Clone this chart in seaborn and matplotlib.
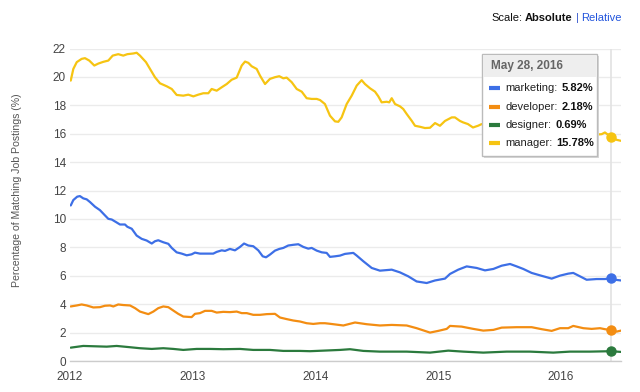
import numpy as np
import pandas as pd
import matplotlib
matplotlib.use("Agg")
import matplotlib.pyplot as plt
import seaborn as sns
from matplotlib.patches import Rectangle
from matplotlib.lines import Line2D

# ---------------- data (x as years since 2012-01-01) ----------------
series_names = ["marketing", "developer", "designer", "manager"]
series_colors = ["#3d6fe6", "#f38d12", "#2b7a3d", "#f6c412"]

manager_t = [0.006, 0.027, 0.055, 0.095, 0.122, 0.157, 0.198, 0.231, 0.271, 0.312, 0.348, 0.393,
             0.434, 0.467, 0.516, 0.543, 0.570, 0.619, 0.652, 0.692, 0.733, 0.788, 0.829, 0.869,
             0.923, 0.964, 1.005, 1.045, 1.086, 1.127, 1.154, 1.195, 1.236, 1.277, 1.317, 1.358,
             1.399, 1.426, 1.453, 1.480, 1.521, 1.548, 1.589, 1.629, 1.670, 1.705, 1.738, 1.765,
             1.806, 1.847, 1.888, 1.928, 1.969, 2.010, 2.037, 2.077, 2.118, 2.159, 2.186, 2.213,
             2.254, 2.295, 2.336, 2.376, 2.403, 2.444, 2.485, 2.512, 2.539, 2.580, 2.601, 2.621,
             2.648, 2.688, 2.715, 2.743, 2.784, 2.811, 2.851, 2.892, 2.933, 2.974, 3.014, 3.055,
             3.110, 3.136, 3.177, 3.202, 3.242, 3.283, 3.324, 3.354, 3.422, 3.503, 3.585, 3.666,
             3.747, 3.829, 3.910, 3.992, 4.073, 4.155, 4.236, 4.332, 4.358, 4.407, 4.454, 4.489]
manager_v = [19.74, 20.56, 21.04, 21.27, 21.32, 21.15, 20.80, 20.94, 21.06, 21.15, 21.50, 21.60,
             21.50, 21.60, 21.65, 21.70, 21.50, 21.04, 20.56, 19.98, 19.55, 19.34, 19.15, 18.73,
             18.68, 18.75, 18.63, 18.75, 18.85, 18.85, 19.15, 19.03, 19.27, 19.50, 19.80, 19.95,
             20.80, 21.08, 20.99, 20.75, 20.56, 20.09, 19.50, 19.86, 19.98, 20.05, 19.90, 19.95,
             19.63, 19.15, 18.96, 18.50, 18.45, 18.45, 18.37, 18.09, 17.27, 16.87, 16.84, 17.15,
             18.09, 18.68, 19.39, 19.77, 19.50, 19.20, 18.96, 18.63, 18.21, 18.25, 18.21, 18.50,
             18.09, 17.93, 17.74, 17.39, 16.91, 16.56, 16.49, 16.40, 16.42, 16.75, 16.56, 16.90,
             17.15, 17.15, 16.90, 16.80, 16.68, 16.44, 16.56, 16.68, 16.40, 16.20, 16.40, 16.10,
             16.30, 16.00, 16.20, 15.90, 16.10, 15.80, 15.90, 15.97, 16.09, 15.78, 15.57, 15.50]

marketing_t = [0.006, 0.027, 0.059, 0.081, 0.108, 0.136, 0.163, 0.204, 0.244, 0.285, 0.312, 0.340,
               0.375, 0.407, 0.448, 0.467, 0.503, 0.543, 0.584, 0.625, 0.666, 0.692, 0.719, 0.760,
               0.801, 0.829, 0.869, 0.910, 0.951, 0.991, 1.018, 1.059, 1.114, 1.167, 1.195, 1.236,
               1.263, 1.303, 1.344, 1.385, 1.418, 1.453, 1.493, 1.534, 1.570, 1.597, 1.629, 1.670,
               1.705, 1.738, 1.778, 1.819, 1.860, 1.901, 1.941, 1.969, 2.010, 2.051, 2.091, 2.118,
               2.159, 2.200, 2.240, 2.308, 2.336, 2.390, 2.458, 2.525, 2.621, 2.688, 2.756, 2.824,
               2.906, 2.974, 3.055, 3.096, 3.163, 3.232, 3.313, 3.381, 3.449, 3.517, 3.585, 3.639,
               3.693, 3.761, 3.829, 3.924, 3.992, 4.059, 4.100, 4.155, 4.209, 4.291, 4.358, 4.407,
               4.440, 4.489]
marketing_v = [10.95, 11.33, 11.57, 11.61, 11.45, 11.38, 11.19, 10.86, 10.62, 10.25, 10.01, 9.96,
               9.78, 9.61, 9.61, 9.45, 9.31, 8.83, 8.60, 8.48, 8.27, 8.43, 8.50, 8.36,
               8.25, 7.96, 7.65, 7.56, 7.44, 7.51, 7.63, 7.56, 7.56, 7.56, 7.68, 7.79,
               7.75, 7.89, 7.79, 8.03, 8.27, 8.13, 8.08, 7.79, 7.37, 7.30, 7.49, 7.77,
               7.89, 7.96, 8.13, 8.18, 8.22, 8.03, 7.91, 7.96, 7.77, 7.65, 7.61, 7.33,
               7.37, 7.42, 7.54, 7.61, 7.42, 7.02, 6.55, 6.36, 6.43, 6.24, 5.96, 5.60,
               5.49, 5.67, 5.80, 6.13, 6.43, 6.66, 6.55, 6.38, 6.48, 6.71, 6.83, 6.66,
               6.48, 6.20, 6.03, 5.80, 6.01, 6.15, 6.20, 5.96, 5.72, 5.77, 5.77, 5.82,
               5.72, 5.67]

developer_t = [0.006, 0.055, 0.095, 0.136, 0.190, 0.244, 0.285, 0.326, 0.353, 0.393, 0.434, 0.489,
               0.530, 0.570, 0.611, 0.638, 0.679, 0.719, 0.760, 0.801, 0.842, 0.882, 0.923, 0.991,
               1.018, 1.059, 1.100, 1.154, 1.195, 1.249, 1.303, 1.358, 1.399, 1.440, 1.493, 1.548,
               1.603, 1.670, 1.711, 1.765, 1.819, 1.874, 1.928, 1.982, 2.037, 2.077, 2.118, 2.227,
               2.322, 2.417, 2.525, 2.621, 2.743, 2.824, 2.933, 3.000, 3.069, 3.096, 3.191, 3.286,
               3.367, 3.449, 3.517, 3.639, 3.761, 3.843, 3.924, 3.992, 4.059, 4.100, 4.182, 4.250,
               4.318, 4.358, 4.407, 4.454, 4.489]
developer_v = [3.84, 3.91, 3.98, 3.91, 3.77, 3.79, 3.89, 3.91, 3.84, 3.98, 3.94, 3.91,
               3.72, 3.48, 3.37, 3.30, 3.48, 3.72, 3.84, 3.79, 3.55, 3.32, 3.13, 3.09,
               3.32, 3.37, 3.53, 3.53, 3.41, 3.46, 3.44, 3.48, 3.37, 3.37, 3.25, 3.25,
               3.30, 3.32, 3.06, 2.95, 2.85, 2.78, 2.66, 2.61, 2.66, 2.66, 2.62, 2.50,
               2.71, 2.59, 2.50, 2.54, 2.50, 2.31, 2.00, 2.12, 2.26, 2.47, 2.42, 2.26,
               2.14, 2.19, 2.35, 2.38, 2.38, 2.24, 2.12, 2.31, 2.31, 2.47, 2.31, 2.26,
               2.31, 2.24, 2.18, 2.07, 2.14]

designer_t = [0.006, 0.108, 0.299, 0.380, 0.489, 0.570, 0.666, 0.760, 0.842, 0.923, 1.032, 1.141,
              1.249, 1.385, 1.493, 1.629, 1.738, 1.874, 1.955, 2.064, 2.200, 2.281, 2.390, 2.525,
              2.743, 2.933, 3.082, 3.204, 3.367, 3.558, 3.747, 3.937, 4.073, 4.236, 4.407, 4.489]
designer_v = [0.94, 1.06, 1.01, 1.06, 0.97, 0.90, 0.85, 0.90, 0.85, 0.78, 0.85, 0.85,
              0.83, 0.85, 0.78, 0.78, 0.71, 0.71, 0.69, 0.73, 0.78, 0.83, 0.71, 0.66,
              0.66, 0.59, 0.73, 0.66, 0.59, 0.66, 0.66, 0.59, 0.66, 0.66, 0.69, 0.64]

x_tick_labels = ["2012", "2013", "2014", "2015", "2016"]
y_ticks = [0, 2, 4, 6, 8, 10, 12, 14, 16, 18, 20, 22]

hover_t = 4.407
hover_date = "May 28, 2016"
hover_values = [5.82, 2.18, 0.69, 15.78]

# ---------------- build frame ----------------
frames = []
for name, t, v in [("marketing", marketing_t, marketing_v),
                   ("developer", developer_t, developer_v),
                   ("designer", designer_t, designer_v),
                   ("manager", manager_t, manager_v)]:
    frames.append(pd.DataFrame({"t": np.array(t) + 2012, "value": v, "series": name}))
df = pd.concat(frames, ignore_index=True)

sns.set_theme(style="white")
plt.rcParams["font.family"] = ["Liberation Sans", "DejaVu Sans"]

fig = plt.figure(figsize=(6.4, 3.92), dpi=100)
ax = fig.add_axes([70 / 640, 1 - 361 / 392, 551 / 640, (361 - 48.5) / 392])

palette = dict(zip(series_names, series_colors))
sns.lineplot(data=df, x="t", y="value", hue="series", hue_order=series_names,
             palette=palette, estimator=None, sort=True, linewidth=1.6,
             legend=False, ax=ax, zorder=3)

ax.set_xlim(2012, 2016.489)
ax.set_ylim(0, 22)
ax.set_yticks(y_ticks)
ax.set_yticklabels([str(v) for v in y_ticks])
ax.set_xticks([2012 + i for i in range(len(x_tick_labels))])
ax.set_xticklabels(x_tick_labels)
ax.tick_params(axis="both", length=0, labelsize=8.5, labelcolor="#444444")
ax.tick_params(axis="y", pad=3)
ax.tick_params(axis="x", pad=7)
ax.set_xlabel("")
ax.set_ylabel("")
ax.grid(axis="y", color="#ebebeb", linewidth=1, zorder=0)
for s in ["top", "right", "left"]:
    ax.spines[s].set_visible(False)
ax.spines["bottom"].set_color("#cccccc")
ax.spines["bottom"].set_linewidth(1)

# hover line + points
ax.axvline(hover_t + 2012, color="#e2e2e2", linewidth=1.2, zorder=1)
for c, v in zip(series_colors, hover_values):
    ax.plot([hover_t + 2012], [v], marker="o", markersize=6.5, color=c, zorder=5)

fig.text(17 / 640, 1 - 190 / 392, "Percentage of Matching Job Postings (%)", rotation=90,
         ha="center", va="center", fontsize=7.6, color="#555555")

# Scale: Absolute | Relative
fig.canvas.draw()
r = fig.canvas.get_renderer()
yb = 1 - 18 / 392
x_right = 622 / 640
t_rel = fig.text(x_right, yb, "Relative", ha="right", va="center", fontsize=8, color="#2255dd")
w = t_rel.get_window_extent(r).width
x_cur = x_right * 640 - w
t_bar = fig.text((x_cur - 3) / 640, yb, "|", ha="right", va="center", fontsize=8, color="#3355cc")
w = t_bar.get_window_extent(r).width
x_cur = x_cur - 3 - w
t_abs = fig.text((x_cur - 3) / 640, yb, "Absolute", ha="right", va="center", fontsize=8,
                 fontweight="bold", color="#111111")
w = t_abs.get_window_extent(r).width
x_cur = x_cur - 3 - w
fig.text((x_cur - 3) / 640, yb, "Scale:", ha="right", va="center", fontsize=8, color="#111111")

# tooltip
tx0, tx1, ty0, ty1 = 482, 597, 54, 156
fig.patches.append(Rectangle(((tx0 + 2) / 640, 1 - (ty1 + 2) / 392), (tx1 - tx0) / 640,
                             (ty1 - ty0) / 392, transform=fig.transFigure,
                             facecolor="#d8d8d8", edgecolor="none", zorder=8))
fig.patches.append(Rectangle((tx0 / 640, 1 - ty1 / 392), (tx1 - tx0) / 640, (ty1 - ty0) / 392,
                             transform=fig.transFigure, facecolor="white",
                             edgecolor="#bbbbbb", linewidth=1, zorder=9))
fig.patches.append(Rectangle(((tx0 + 1) / 640, 1 - 77 / 392), (tx1 - tx0 - 2) / 640, (77 - ty0 - 1) / 392,
                             transform=fig.transFigure, facecolor="#eeeeee",
                             edgecolor="none", zorder=9.5))
fig.text(491 / 640, 1 - 66 / 392, hover_date, ha="left", va="center", fontsize=8.5,
         fontweight="bold", color="#666666", zorder=10)
row_y = [88, 107, 125, 143]
for name, c, v, yy in zip(series_names, series_colors, hover_values, row_y):
    fig.add_artist(Line2D([489 / 640, 500 / 640], [1 - yy / 392, 1 - yy / 392], color=c,
                          linewidth=3, transform=fig.transFigure, zorder=10,
                          solid_capstyle="butt"))
    tl = fig.text(505 / 640, 1 - yy / 392, name + ":", ha="left", va="center", fontsize=8,
                  color="#222222", zorder=10)
    wl = tl.get_window_extent(r).width
    fig.text((505 + wl + 4) / 640, 1 - yy / 392, f"{v:.2f}%", ha="left", va="center",
             fontsize=8, fontweight="bold", color="#111111", zorder=10)

fig.savefig("out.png", dpi=100)
